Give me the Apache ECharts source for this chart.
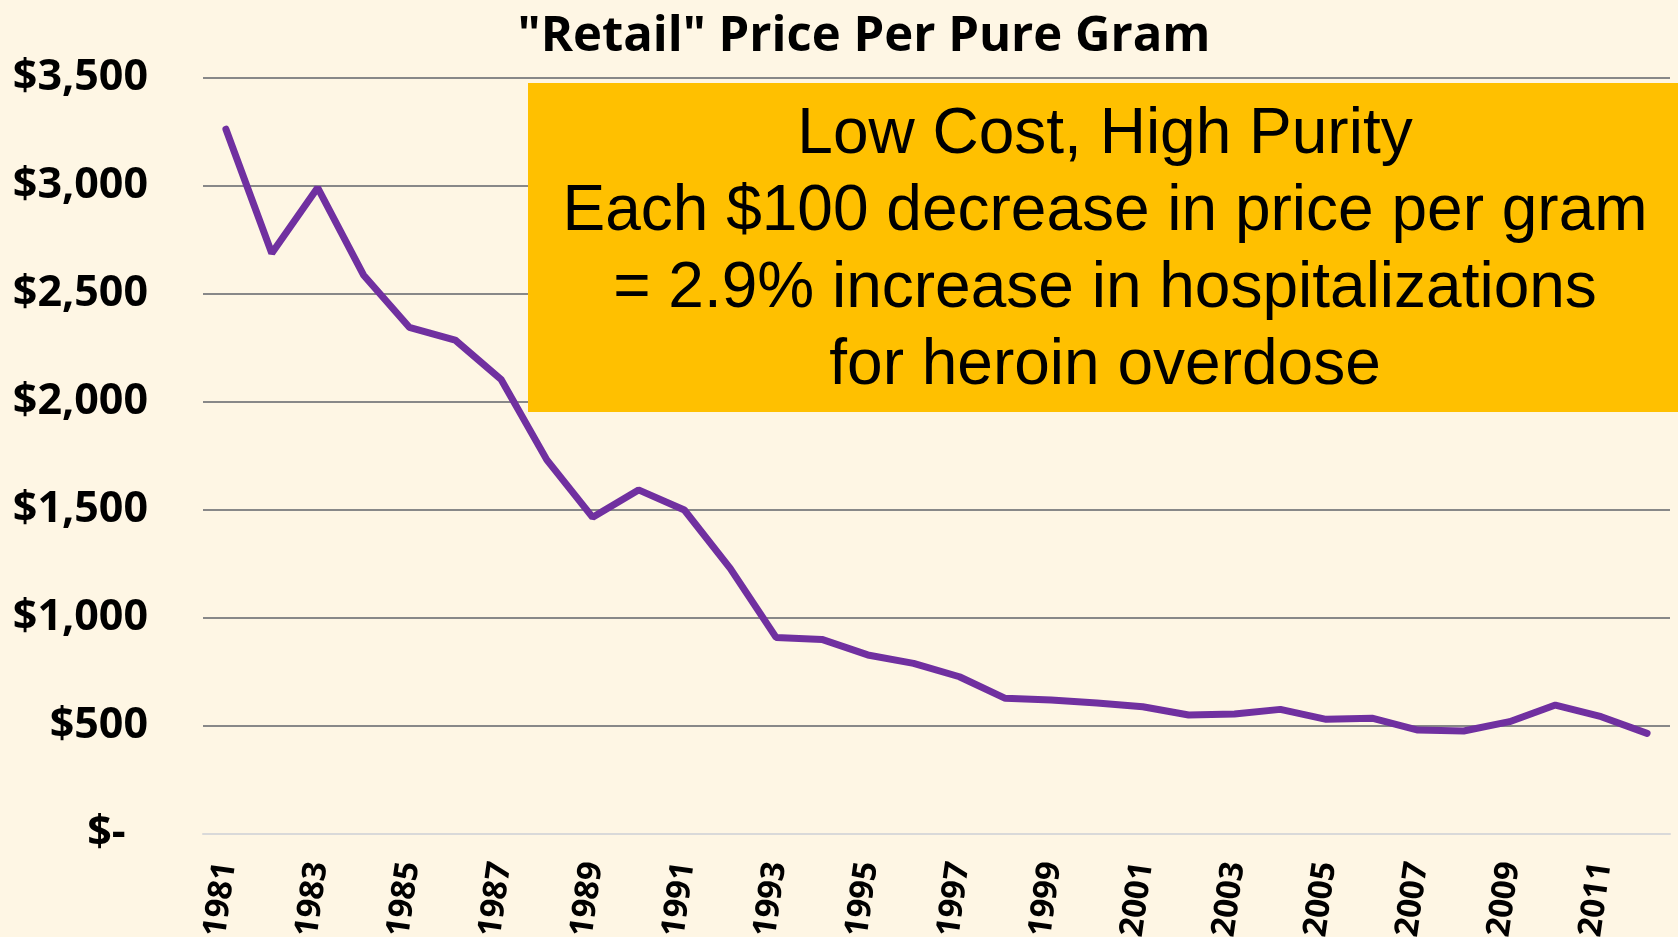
<!DOCTYPE html>
<html>
<head>
<meta charset="utf-8">
<script src="https://cdn.jsdelivr.net/npm/echarts@6/dist/echarts.min.js"></script>
<style>
  html, body { margin: 0; padding: 0; background: #FEF6E4; }
  #chart { width: 1678px; height: 937px; }
</style>
</head>
<body>
<div id="chart"></div>
<script>
const years = ['1981','1982','1983','1984','1985','1986','1987','1988','1989','1990','1991','1992','1993','1994','1995','1996','1997','1998','1999','2000','2001','2002','2003','2004','2005','2006','2007','2008','2009','2010','2011','2012'];
const prices = [3263, 2689, 2992, 2588, 2346, 2287, 2105, 1732, 1466, 1593, 1500, 1230, 910, 901, 829, 790, 728, 628, 620, 607, 589, 551, 556, 577, 531, 536, 481, 477, 520, 597, 543, 466];
const yTickLabels = ['$-  ', '$500', '$1,000', '$1,500', '$2,000', '$2,500', '$3,000', '$3,500'];
const chartTitle = '"Retail" Price Per Pure Gram';
const noteLines = ['Low Cost, High Purity', 'Each $100 decrease in price per gram', '= 2.9% increase in hospitalizations', 'for heroin overdose'];

const chart = echarts.init(document.getElementById('chart'), null, { renderer: 'canvas' });
chart.setOption({
  backgroundColor: '#FEF6E4',
  animation: false,
  title: {
    text: chartTitle,
    left: 859,
    top: 8,
    textAlign: 'center',
    textStyle: { fontFamily: 'Open Sans', fontWeight: 'bold', fontSize: 49, color: '#000' }
  },
  grid: { left: 203, right: 8, top: 78, bottom: 103, containLabel: false, outerBoundsMode: 'none' },
  xAxis: {
    type: 'category',
    data: years,
    boundaryGap: true,
    axisTick: { show: false },
    axisLine: { lineStyle: { color: '#D9D9D9', width: 2 } },
    axisLabel: {
      interval: 1,
      rotate: 82,
      margin: 28,
      fontFamily: 'Open Sans',
      fontWeight: 'bold',
      fontSize: 33,
      color: '#000'
    }
  },
  yAxis: {
    type: 'value',
    min: 0,
    max: 3500,
    interval: 500,
    axisLine: { show: false },
    axisTick: { show: false },
    splitLine: { show: true, showMinLine: false, lineStyle: { color: '#888888', width: 2 } },
    axisLabel: {
      margin: 55,
      fontFamily: 'Open Sans',
      fontWeight: 'bold',
      fontSize: 43,
      color: '#000',
      formatter: function (v) { return yTickLabels[Math.round(v / 500)]; }
    }
  },
  series: [{
    type: 'line',
    data: prices,
    symbol: 'none',
    smooth: false,
    lineStyle: { color: '#7030A0', width: 7, cap: 'round' },
    z: 3
  }],
  graphic: [{
    type: 'rect',
    z: 100,
    zlevel: 1,
    shape: { x: 528, y: 83, width: 1160, height: 329 },
    style: { fill: '#FFC000' }
  }, {
    type: 'text',
    z: 101,
    zlevel: 1,
    x: 1105,
    y: 251,
    style: {
      text: noteLines.join('\n'),
      font: '64px "Liberation Sans", Arial, sans-serif',
      fill: '#000',
      align: 'center',
      verticalAlign: 'middle',
      lineHeight: 77
    }
  }]
});
</script>
</body>
</html>
